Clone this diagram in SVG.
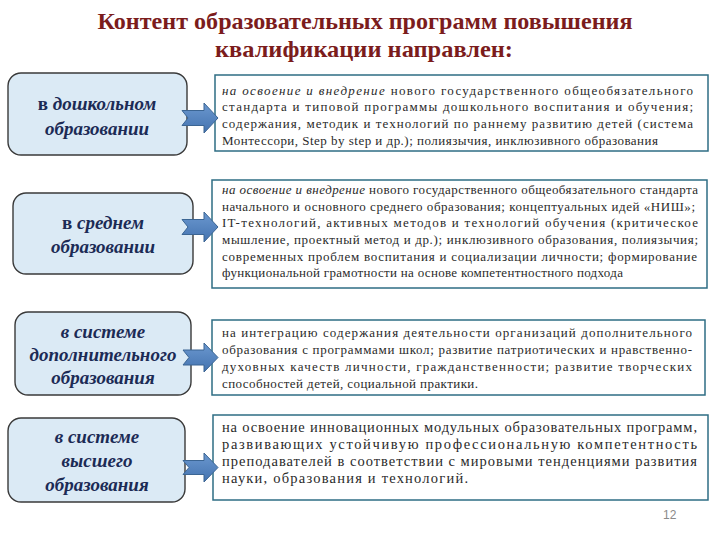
<svg xmlns="http://www.w3.org/2000/svg" width="720" height="540" viewBox="0 0 720 540">
<defs>
<style>
.title{font-family:'Liberation Serif','Times New Roman',serif;font-weight:bold;font-size:22.5px;fill:#7b1c1c;text-anchor:middle}
.lbox{fill:#dbeaf5;stroke:#3a3a3a;stroke-width:1.4}
.ltxt{font-family:'Liberation Serif','Times New Roman',serif;font-weight:bold;font-style:italic;font-size:19px;fill:#1c2b55;text-anchor:middle}
.rbox{fill:#ffffff;stroke:#2e6d84;stroke-width:1.5}
.rtxt{font-family:'Liberation Serif','Times New Roman',serif;font-size:13px;fill:#2a2a2a}
.big{font-size:14.5px}
.arr{fill:url(#ag);stroke:#3b6593;stroke-width:1}
.pg{font-family:'Liberation Sans',Arial,sans-serif;font-size:12px;fill:#8a8a8a}
</style>
<linearGradient id="ag" x1="0" y1="0" x2="0" y2="1">
<stop offset="0" stop-color="#6b98cf"/>
<stop offset="1" stop-color="#4473b0"/>
</linearGradient>
</defs>
<rect width="720" height="540" fill="#ffffff"/>
<g id="title">
<text class="title" x="365" y="29" textLength="535" lengthAdjust="spacingAndGlyphs">Контент образовательных программ повышения</text>
<text class="title" x="364" y="57" textLength="298" lengthAdjust="spacingAndGlyphs">квалификации направлен:</text>
</g>
<g id="n1">
<rect class="lbox" x="8" y="73" width="179" height="82" rx="13"/>
<text class="ltxt" x="97" y="110"><tspan font-style="normal">в</tspan> дошкольном</text>
<text class="ltxt" x="97" y="135">образовании</text>
</g>
<g id="n2">
<rect class="lbox" x="13" y="193" width="180" height="81" rx="13"/>
<text class="ltxt" x="103" y="229"><tspan font-style="normal">в</tspan> среднем</text>
<text class="ltxt" x="103" y="253">образовании</text>
</g>
<g id="n3">
<rect class="lbox" x="15" y="312" width="176" height="83" rx="13"/>
<text class="ltxt" x="103" y="338">в системе</text>
<text class="ltxt" x="103" y="361">дополнительного</text>
<text class="ltxt" x="103" y="384">образования</text>
</g>
<g id="n4">
<rect class="lbox" x="8" y="418" width="177" height="84" rx="13"/>
<text class="ltxt" x="97" y="443">в системе</text>
<text class="ltxt" x="97" y="467">высшего</text>
<text class="ltxt" x="97" y="491">образования</text>
</g>
<g id="r1">
<rect class="rbox" x="215" y="75" width="493" height="76"/>
<text class="rtxt" x="222" y="95" textLength="471" lengthAdjust="spacing"><tspan font-style="italic">на освоение и внедрение</tspan> нового государственного общеобязательного</text>
<text class="rtxt" x="222" y="111" textLength="471" lengthAdjust="spacing">стандарта и типовой программы дошкольного воспитания и обучения;</text>
<text class="rtxt" x="222" y="128" textLength="471" lengthAdjust="spacing">содержания, методик и технологий по раннему развитию детей (система</text>
<text class="rtxt" x="222" y="145" textLength="436" lengthAdjust="spacing">Монтессори,  Step by step и др.); полиязычия, инклюзивного образования</text>
</g>
<g id="r2">
<rect class="rbox" x="212" y="180" width="495" height="108"/>
<text class="rtxt" x="222" y="194" textLength="476" lengthAdjust="spacing"><tspan font-style="italic">на освоение и внедрение</tspan> нового государственного общеобязательного стандарта</text>
<text class="rtxt" x="222" y="211" textLength="473" lengthAdjust="spacing">начального и основного среднего образования; концептуальных идей «НИШ»;</text>
<text class="rtxt" x="222" y="227" textLength="476" lengthAdjust="spacing">IT-технологий, активных методов и технологий обучения (критическое</text>
<text class="rtxt" x="222" y="244" textLength="476" lengthAdjust="spacing">мышление, проектный метод и др.); инклюзивного образования,  полиязычия;</text>
<text class="rtxt" x="222" y="261" textLength="475" lengthAdjust="spacing">современных проблем воспитания и социализации личности; формирование</text>
<text class="rtxt" x="222" y="277" textLength="401" lengthAdjust="spacing">функциональной грамотности на основе компетентностного подхода</text>
</g>
<g id="r3">
<rect class="rbox" x="212" y="320" width="493" height="75"/>
<text class="rtxt" x="222" y="337" textLength="470" lengthAdjust="spacing">на интеграцию содержания деятельности организаций дополнительного</text>
<text class="rtxt" x="222" y="354" textLength="470" lengthAdjust="spacing">образования с программами школ; развитие патриотических и нравственно-</text>
<text class="rtxt" x="222" y="371" textLength="470" lengthAdjust="spacing">духовных качеств личности, гражданственности; развитие творческих</text>
<text class="rtxt" x="222" y="388" textLength="256" lengthAdjust="spacing">способностей детей, социальной практики.</text>
</g>
<g id="r4">
<rect class="rbox" x="213" y="415" width="495" height="85"/>
<text class="rtxt big" x="222" y="432" textLength="475" lengthAdjust="spacing">на освоение инновационных модульных образовательных  программ,</text>
<text class="rtxt big" x="222" y="449" textLength="475" lengthAdjust="spacing">развивающих устойчивую профессиональную компетентность</text>
<text class="rtxt big" x="222" y="466" textLength="475" lengthAdjust="spacing">преподавателей в соответствии с мировыми тенденциями развития</text>
<text class="rtxt big" x="222" y="483" textLength="246" lengthAdjust="spacing">науки,  образования и технологий.</text>
</g>
<g id="connectors">
<path class="arr" d="M182,110.5 H204 V103 L218,118 L204,133 V125.5 H182 L188,118 Z"/>
<path class="arr" d="M182,219.5 H204 V212 L218,227 L204,242 V234.5 H182 L188,227 Z"/>
<path class="arr" d="M183,350 H204 V343 L218,357.5 L204,372 V365 H183 L189,357.5 Z"/>
<path class="arr" d="M183,460.5 H204 V453 L218,467.5 L204,482 V474.5 H183 L189,467.5 Z"/>
</g>
<text class="pg" x="663" y="519">12</text>
</svg>
